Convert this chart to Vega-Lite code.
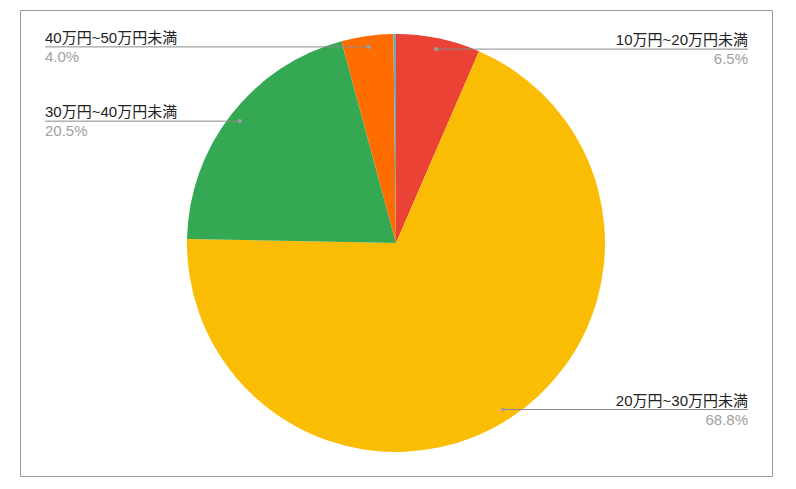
{
  "$schema": "https://vega.github.io/schema/vega-lite/v6.json",
  "width": 752,
  "height": 466,
  "autosize": {"type": "none"},
  "padding": {"left": 20, "top": 10, "right": 24, "bottom": 13},
  "background": "white",
  "data": {
    "values": [
      {"category": "10万円~20万円未満", "value": 6.5, "order": 1},
      {"category": "20万円~30万円未満", "value": 68.8, "order": 2},
      {"category": "30万円~40万円未満", "value": 20.5, "order": 3},
      {"category": "40万円~50万円未満", "value": 4.0, "order": 4},
      {"category": "50万円以上", "value": 0.2, "order": 5}
    ]
  },
  "transform": [
    {"window": [{"op": "sum", "field": "value", "as": "cum"}], "sort": [{"field": "order"}], "frame": [null, 0]},
    {"joinaggregate": [{"op": "sum", "field": "value", "as": "total"}]},
    {"calculate": "2*PI*(datum.cum - datum.value/2)/datum.total", "as": "mid"},
    {"calculate": "198*sin(datum.mid)", "as": "px"},
    {"calculate": "198*cos(datum.mid)", "as": "py"},
    {"calculate": "datum.px > 0 ? 352 : -351", "as": "lx"},
    {"calculate": "format(datum.value/datum.total, '.1%')", "as": "pct"}
  ],
  "layer": [
    {
      "mark": {"type": "arc", "outerRadius": 209},
      "encoding": {
        "theta": {"field": "value", "type": "quantitative", "stack": true},
        "order": {"field": "order", "type": "quantitative"},
        "color": {
          "field": "category",
          "type": "nominal",
          "legend": null,
          "scale": {
            "domain": ["10万円~20万円未満", "20万円~30万円未満", "30万円~40万円未満", "40万円~50万円未満", "50万円以上"],
            "range": ["#EA4335", "#FBBC04", "#34A853", "#FF6D01", "#6FA9AE"]
          }
        }
      }
    },
    {
      "transform": [{"filter": "datum.value >= 1"}],
      "mark": {"type": "rule", "color": "#8a8a8a", "strokeWidth": 1},
      "encoding": {
        "x": {"field": "px", "type": "quantitative", "axis": null, "scale": {"domain": [-376, 376], "nice": false, "zero": false}},
        "x2": {"field": "lx"},
        "y": {"field": "py", "type": "quantitative", "axis": null, "scale": {"domain": [-233, 233], "nice": false, "zero": false}}
      }
    },
    {
      "transform": [{"filter": "datum.value >= 1"}],
      "mark": {"type": "point", "filled": true, "size": 18, "color": "#9e9e9e", "opacity": 1},
      "encoding": {
        "x": {"field": "px", "type": "quantitative", "axis": null, "scale": {"domain": [-376, 376], "nice": false, "zero": false}},
        "y": {"field": "py", "type": "quantitative", "axis": null, "scale": {"domain": [-233, 233], "nice": false, "zero": false}}
      }
    },
    {
      "transform": [{"filter": "datum.value >= 1 && datum.px < 0"}],
      "mark": {"type": "text", "align": "left", "baseline": "alphabetic", "dy": -4, "fontSize": 15, "color": "#222222"},
      "encoding": {
        "x": {"field": "lx", "type": "quantitative", "axis": null, "scale": {"domain": [-376, 376], "nice": false, "zero": false}},
        "y": {"field": "py", "type": "quantitative", "axis": null, "scale": {"domain": [-233, 233], "nice": false, "zero": false}},
        "text": {"field": "category"}
      }
    },
    {
      "transform": [{"filter": "datum.value >= 1 && datum.px < 0"}],
      "mark": {"type": "text", "align": "left", "baseline": "top", "dy": 3, "fontSize": 15, "color": "#a0a0a0"},
      "encoding": {
        "x": {"field": "lx", "type": "quantitative", "axis": null, "scale": {"domain": [-376, 376], "nice": false, "zero": false}},
        "y": {"field": "py", "type": "quantitative", "axis": null, "scale": {"domain": [-233, 233], "nice": false, "zero": false}},
        "text": {"field": "pct"}
      }
    },
    {
      "transform": [{"filter": "datum.value >= 1 && datum.px > 0"}],
      "mark": {"type": "text", "align": "right", "baseline": "alphabetic", "dy": -4, "fontSize": 15, "color": "#222222"},
      "encoding": {
        "x": {"field": "lx", "type": "quantitative", "axis": null, "scale": {"domain": [-376, 376], "nice": false, "zero": false}},
        "y": {"field": "py", "type": "quantitative", "axis": null, "scale": {"domain": [-233, 233], "nice": false, "zero": false}},
        "text": {"field": "category"}
      }
    },
    {
      "transform": [{"filter": "datum.value >= 1 && datum.px > 0"}],
      "mark": {"type": "text", "align": "right", "baseline": "top", "dy": 3, "fontSize": 15, "color": "#a0a0a0"},
      "encoding": {
        "x": {"field": "lx", "type": "quantitative", "axis": null, "scale": {"domain": [-376, 376], "nice": false, "zero": false}},
        "y": {"field": "py", "type": "quantitative", "axis": null, "scale": {"domain": [-233, 233], "nice": false, "zero": false}},
        "text": {"field": "pct"}
      }
    }
  ],
  "config": {
    "view": {"stroke": "#9a9a9a", "strokeWidth": 1},
    "text": {"font": "Arial, 'Liberation Sans', 'Noto Sans CJK JP', sans-serif"}
  }
}
